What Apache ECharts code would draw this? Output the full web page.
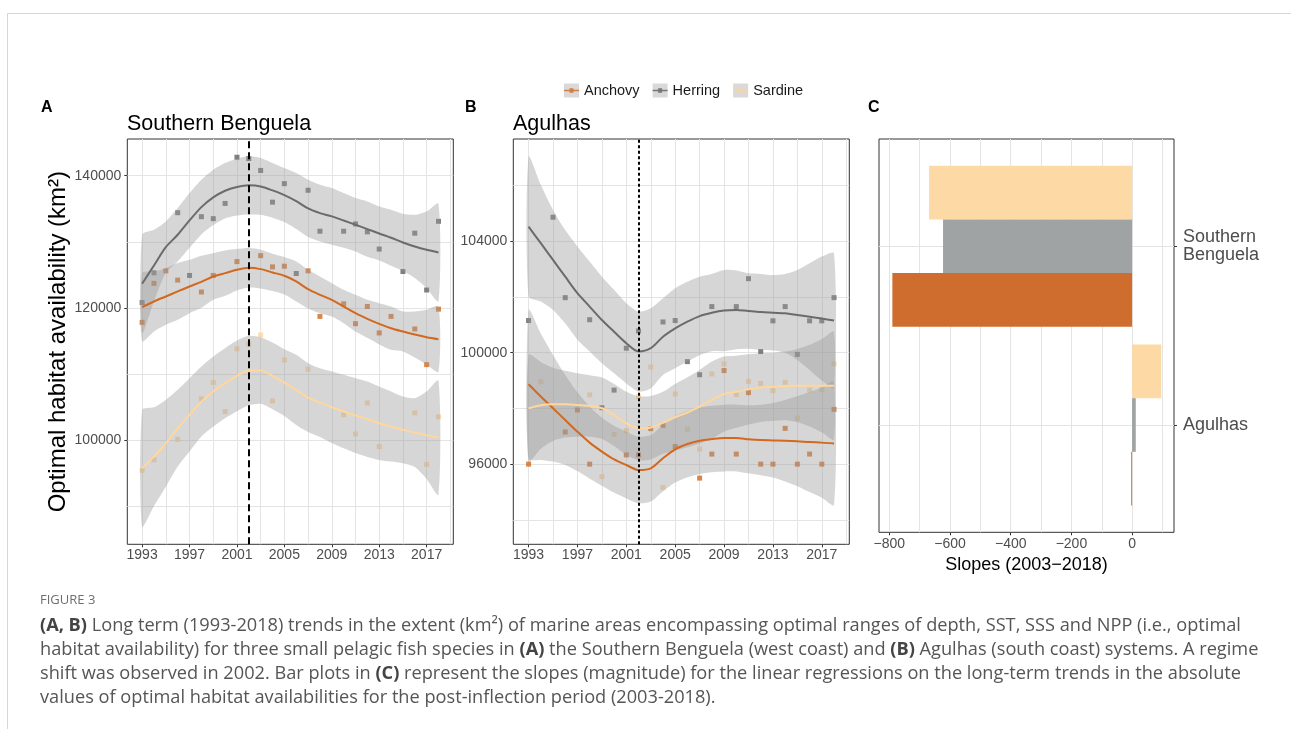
<!DOCTYPE html>
<html><head><meta charset="utf-8">
<script src="https://cdn.jsdelivr.net/npm/echarts@6/dist/echarts.min.js"></script>
<style>html,body{margin:0;padding:0;background:#fff}#c{width:1291px;height:729px}</style>
</head><body><div id="c"></div>
<script>
// ---------------- DATA ----------------
const years = [1993,1994,1995,1996,1997,1998,1999,2000,2001,2002,2003,2004,2005,2006,2007,2008,2009,2010,2011,2012,2013,2014,2015,2016,2017,2018];
const species = ['Anchovy','Herring','Sardine'];
const regimeShiftYear = 2002;

// Panel A: Southern Benguela
const sbAnchovyPts = [117800,123700,125600,124200,null,122400,124900,null,127000,null,127900,126200,126300,null,125600,118700,null,120600,117600,120200,116200,118700,null,116800,111400,119800];
const sbHerringPts = [120800,125300,null,134400,124900,133800,133500,135800,142800,142600,140800,136000,138800,125200,137800,131600,null,131600,132700,131500,128900,null,125500,131300,122700,133100];
const sbSardinePts = [95400,97000,null,100100,null,106200,108700,104300,113800,114500,115900,105900,112100,null,110700,null,null,103800,100900,105600,99000,null,null,104100,96300,103500];
const sbAnchovyFit = [120100,120960,121720,122480,123230,123940,124750,125250,125760,126060,125860,125360,124850,123990,122830,121970,121210,120200,119190,118340,117580,116920,116420,115960,115560,115260];
const sbAnchovyUpper = [125250,125510,126010,126770,127270,127880,128280,128690,128890,129040,128790,128180,127680,127020,125760,124750,123740,122730,121970,121210,120710,120200,119450,119450,119700,120200];
const sbAnchovyLower = [114950,116420,117430,118180,119190,120000,121210,121820,122630,123080,122930,122530,122020,120960,119900,119190,118690,117680,116420,115460,114450,113640,113390,112480,111420,110310];
const sbHerringFit = [123640,126420,129190,131060,133230,135250,136720,137730,138280,138540,138380,137780,137070,136160,135050,134340,133840,133230,132580,131920,131260,130610,129900,129290,128790,128390];
const sbHerringUpper = [131060,131820,133080,135100,137370,139390,140910,141920,142580,142930,142680,141920,141160,140400,139390,138640,138130,137370,136620,136110,135350,134850,134240,134090,134600,135760];
const sbHerringLower = [116210,121010,125300,127020,129090,131110,132530,133540,133990,134140,134090,133640,132980,131920,130710,130050,129550,129090,128540,127730,127170,126370,125560,124500,122980,121010];
const sbSardineFit = [95710,97480,99500,101770,103790,105810,107330,108590,109700,110510,110510,109700,108690,107580,106420,105660,104950,104300,103690,103140,102530,102020,101520,101120,100710,100360];
const sbSardineUpper = [104550,104950,106060,107580,109350,111110,112630,113890,115050,115760,115560,114750,113740,112880,111620,110860,110360,109850,109350,108840,108080,107330,106570,106320,107330,108990];
const sbSardineLower = [86870,90010,92930,95960,98240,100510,102020,103290,104350,105260,105460,104650,103640,102280,101220,100460,99550,98740,98030,97430,96970,96720,96470,95910,94100,91720];

// Panel B: Agulhas
const agAnchovyPts = [96010,null,null,97160,97950,96010,null,null,96340,96340,97280,97400,96640,null,95510,96370,99360,96370,98570,96010,96010,97290,96010,96370,96010,97970];
const agHerringPts = [101150,null,104850,101970,null,101180,98030,98660,100160,100780,null,101100,101150,99680,99210,101650,null,101650,102650,100040,101140,101650,99940,101140,101140,101970];
const agSardinePts = [null,98960,null,null,null,98490,95560,97070,97210,98430,99490,95170,98520,97260,96550,99240,99600,98500,98970,98900,98640,98940,97660,98660,98680,99600];
const agAnchovyFit = [98870,98430,98010,97590,97170,96780,96460,96180,95980,95800,95860,96220,96540,96730,96850,96910,96950,96950,96900,96870,96860,96850,96830,96800,96780,96750];
const agAnchovyUpper = [101530,100690,99920,99200,98580,98070,97670,97380,97170,96990,97050,97410,97730,97920,98040,98100,98140,98140,98120,98140,98200,98310,98440,98590,98750,98960];
const agAnchovyLower = [96210,96160,96100,95980,95760,95490,95240,94990,94780,94610,94670,95030,95350,95540,95660,95720,95750,95750,95680,95610,95530,95390,95220,95010,94810,94550];
const agHerringFit = [104510,103920,103320,102720,102130,101650,101170,100750,100340,100040,100160,100570,100870,101110,101310,101430,101510,101530,101490,101460,101430,101410,101350,101290,101220,101150];
const agHerringUpper = [107020,106010,105110,104390,103800,103260,102720,102250,101770,101470,101590,101950,102310,102540,102720,102820,102960,102940,102840,102820,102780,102820,102960,103200,103440,103560];
const agHerringLower = [102010,101830,101530,101050,100460,100040,99620,99260,98900,98610,98720,99200,99440,99680,99910,100050,100050,100120,100140,100100,100080,100000,99740,99380,99000,98740];
const agSardineFit = [98010,98120,98150,98150,98130,98090,98010,97770,97470,97290,97320,97490,97690,97860,98070,98310,98520,98600,98690,98750,98780,98810,98820,98820,98820,98820];
const agSardineUpper = [99920,99670,99460,99350,99260,99190,99110,98880,98600,98440,98450,98600,98880,99120,99380,99680,99860,99890,99940,99980,100000,100040,100130,100280,100490,100750];
const agSardineLower = [96100,96560,96840,96960,96990,96990,96910,96660,96340,96150,96180,96380,96490,96610,96750,96930,97180,97310,97430,97520,97560,97580,97510,97360,97150,96890];

// Panel C: slopes 2003-2018
const regions = ['Agulhas','Southern Benguela'];
const slopeAnchovy = [-3, -790];
const slopeHerring = [12, -623];
const slopeSardine = [96, -669];

// Tick values
const yearLabels = [1993,1997,2001,2005,2009,2013,2017];
const yearMinor = [1995,1999,2003,2007,2011,2015,2019];
const sbTicks = [100000,120000,140000];
const sbMinor = [90000,110000,130000];
const agTicks = [96000,100000,104000];
const agMinor = [94000,98000,102000,106000];
const slopeTicks = [-800,-600,-400,-200,0];
const slopeMinor = [-700,-500,-300,-100,100];
const regionTicks = [1,2];

const captionLines = [
 '{b|(A, B)} Long term (1993-2018) trends in the extent (km²) of marine areas encompassing optimal ranges of depth, SST, SSS and NPP (i.e., optimal',
 'habitat availability) for three small pelagic fish species in {b|(A)} the Southern Benguela (west coast) and {b|(B)} Agulhas (south coast) systems. A regime',
 'shift was observed in 2002. Bar plots in {b|(C)} represent the slopes (magnitude) for the linear regressions on the long-term trends in the absolute',
 'values of optimal habitat availabilities for the post-inflection period (2003-2018).'
];

// ---------------- STYLE ----------------
const FONT = 'Liberation Sans, Arial, sans-serif';
const CAPFONT = 'Open Sans, sans-serif';
const GRIDC = '#e4e4e4';
const pointColor = {Anchovy:'#D2691E', Herring:'#606060', Sardine:'#FDD49E'};
const lineColor = {Anchovy:'#D2691E', Herring:'#6b6b6b', Sardine:'#FFD69C'};
const barColor = {Anchovy:'#CF6D2E', Herring:'#A0A3A3', Sardine:'#FDD9A6'};

const xMin = 1991.75, xMax = 2019.25;

function gridAxis(gi, min, max, vals, pos) {
  return {type:'value', gridIndex:gi, min, max, position:pos, offset:0,
    axisLine:{show:false, onZero:false}, axisTick:{show:false, customValues:vals},
    axisLabel:{show:false}, splitLine:{show:true, lineStyle:{color:GRIDC, width:1}}};
}
function labelAxis(gi, min, max, vals, pos, margin, extra) {
  return Object.assign({type:'value', gridIndex:gi, min, max, position:pos, offset:0,
    axisLine:{show:false, onZero:false},
    axisTick:{show:true, customValues:vals, length:3, lineStyle:{color:'#333', width:1}},
    axisLabel:{customValues:vals, color:'#4d4d4d', fontSize:14, margin:margin, fontFamily:FONT,
      formatter: v => (v < 0 ? '\u2212' + Math.abs(v) : String(v))},
    splitLine:{show:true, lineStyle:{color:GRIDC, width:1}}}, extra||{});
}

const series = [];
function addPoints(xi, yi, name, pts) {
  series.push({type:'scatter', name, xAxisIndex:xi, yAxisIndex:yi, symbol:'rect', symbolSize:5,
    itemStyle:{color:pointColor[name]}, z:1, silent:true,
    data: years.map((y,i)=>[y, pts[i]]).filter(d=>d[1]!=null)});
}
function addBand(xi, yi, name, lower, upper) {
  series.push({type:'custom', name, xAxisIndex:xi, yAxisIndex:yi, z:2, silent:true,
    data: years.map((y,i)=>[y, lower[i], upper[i]]),
    encode:{x:0, y:[1,2]},
    renderItem:(params, api) => {
      if (params.dataIndex !== 0) return null;
      const pts = [];
      for (let i=0;i<years.length;i++) pts.push(api.coord([years[i], upper[i]]));
      for (let i=years.length-1;i>=0;i--) pts.push(api.coord([years[i], lower[i]]));
      return {type:'polygon', shape:{points:pts, smooth:0.25}, style:{fill:'#999999', opacity:0.4}};
    }});
}
function addLine(xi, yi, name, fit) {
  series.push({type:'line', name, xAxisIndex:xi, yAxisIndex:yi, z:3, silent:true,
    showSymbol:false, smooth:0.3, lineStyle:{color:lineColor[name], width:2},
    itemStyle:{color:lineColor[name]},
    data: years.map((y,i)=>[y, fit[i]])});
}
function addVLine(xi, yi, dash) {
  series.push({type:'line', xAxisIndex:xi, yAxisIndex:yi, data:[], z:5, silent:true,
    markLine:{silent:true, symbol:'none', label:{show:false}, animation:false,
      lineStyle:{color:'#000', width:2, type:dash},
      data:[{xAxis: regimeShiftYear}]}});
}

const panelA = {Anchovy:[sbAnchovyPts,sbAnchovyFit,sbAnchovyLower,sbAnchovyUpper],
                Herring:[sbHerringPts,sbHerringFit,sbHerringLower,sbHerringUpper],
                Sardine:[sbSardinePts,sbSardineFit,sbSardineLower,sbSardineUpper]};
const panelB = {Anchovy:[agAnchovyPts,agAnchovyFit,agAnchovyLower,agAnchovyUpper],
                Herring:[agHerringPts,agHerringFit,agHerringLower,agHerringUpper],
                Sardine:[agSardinePts,agSardineFit,agSardineLower,agSardineUpper]};

species.forEach(s => { addPoints(1,1,s,panelA[s][0]); addPoints(3,3,s,panelB[s][0]); });
species.forEach(s => { addBand(1,1,s,panelA[s][2],panelA[s][3]); addBand(3,3,s,panelB[s][2],panelB[s][3]); });
species.forEach(s => { addLine(1,1,s,panelA[s][1]); addLine(3,3,s,panelB[s][1]); });
addVLine(1,1,[7,4]);
addVLine(3,3,[3,2.5]);

const slopes = {Anchovy:slopeAnchovy, Herring:slopeHerring, Sardine:slopeSardine};
['Sardine','Herring','Anchovy'].forEach(s => {
  series.push({type:'bar', name:s, xAxisIndex:6, yAxisIndex:5, data:slopes[s],
    barCategoryGap:'10%', barGap:'0%', itemStyle:{color:barColor[s]}, silent:true, z:2});
});

const keyPath = 'path://M0,0h0.01v0.01h-0.01z M15,14h-0.01v-0.01h0.01z M0,6.2h15v1.6h-15z M5.5,4.8h4v4.4h-4z';

const option = {
  animation:false,
  textStyle:{fontFamily:FONT},
  title:[
    {text:'A', left:41, top:100, padding:0, textStyle:{fontSize:16, fontWeight:'bold', color:'#000', fontFamily:FONT}},
    {text:'Southern Benguela', left:127, top:113, padding:0, textStyle:{fontSize:21.5, fontWeight:'normal', color:'#000', fontFamily:FONT}},
    {text:'B', left:465, top:100, padding:0, textStyle:{fontSize:16, fontWeight:'bold', color:'#000', fontFamily:FONT}},
    {text:'Agulhas', left:513, top:113, padding:0, textStyle:{fontSize:21.5, fontWeight:'normal', color:'#000', fontFamily:FONT}},
    {text:'C', left:868, top:100, padding:0, textStyle:{fontSize:16, fontWeight:'bold', color:'#000', fontFamily:FONT}}
  ],
  legend:[
    {data:species, left:564, top:83, itemWidth:15, itemHeight:14, itemGap:13, icon:'rect', padding:0,
     selectedMode:false, itemStyle:{color:'#cfcfcf'}, textStyle:{fontSize:14.5, color:'#1a1a1a', fontFamily:FONT}},
    {data:species, left:564, top:83, itemWidth:15, itemHeight:14, itemGap:13, icon:keyPath, padding:0,
     selectedMode:false, textStyle:{fontSize:14.5, color:'rgba(0,0,0,0)', fontFamily:FONT}}
  ],
  grid:[
    {left:127.3, top:139, width:326, height:405.3, show:true, borderColor:'#333', borderWidth:1, backgroundColor:'#fff'},
    {left:513.3, top:139, width:336, height:405.3, show:true, borderColor:'#333', borderWidth:1, backgroundColor:'#fff'},
    {left:879, top:139, width:295, height:393.3, show:true, borderColor:'#333', borderWidth:1, backgroundColor:'#fff'},
    {left:879, top:156.8, width:295, height:357.6, show:false}
  ],
  xAxis:[
    gridAxis(0, xMin, xMax, yearMinor, 'bottom'),
    labelAxis(0, xMin, xMax, yearLabels, 'bottom', 4),
    gridAxis(1, xMin, xMax, yearMinor, 'bottom'),
    labelAxis(1, xMin, xMax, yearLabels, 'bottom', 4),
    gridAxis(2, -834, 138, slopeMinor, 'bottom'),
    labelAxis(2, -834, 138, slopeTicks, 'bottom', 5, {name:'Slopes (2003\u22122018)', nameLocation:'middle', nameGap:20,
      nameTextStyle:{fontSize:18, color:'#000', fontFamily:FONT, verticalAlign:'top'}}),
    {type:'value', gridIndex:3, min:-834, max:138, show:false, axisLine:{show:false, onZero:false}}
  ],
  yAxis:[
    gridAxis(0, 84200, 145560, sbMinor, 'left'),
    labelAxis(0, 84200, 145560, sbTicks, 'left', 6, {name:'Optimal habitat availability (km\u00b2)', nameLocation:'middle', nameGap:56,
      nameTextStyle:{fontSize:24, color:'#000', fontFamily:FONT}}),
    gridAxis(1, 93140, 107650, agMinor, 'left'),
    labelAxis(1, 93140, 107650, agTicks, 'left', 6),
    {type:'value', gridIndex:2, min:0.4, max:2.6, position:'right', offset:0,
      axisLine:{show:false, onZero:false},
      axisTick:{show:true, customValues:regionTicks, length:3, lineStyle:{color:'#333'}},
      axisLabel:{customValues:regionTicks, color:'#4d4d4d', fontSize:18, margin:9, lineHeight:18, align:'left', fontFamily:FONT,
        formatter: v => regions[Math.round(v)-1].replace(' ', '\n')},
      splitLine:{show:true, lineStyle:{color:GRIDC, width:1}}},
    {type:'category', gridIndex:3, data:regions, show:false, axisLine:{show:false, onZero:false}}
  ],
  graphic:[
    {type:'rect', silent:true, shape:{x:7.5, y:13.5, width:1400, height:800}, style:{fill:'none', stroke:'#d6d6d6', lineWidth:1}},
    {type:'text', silent:true, x:40, y:600, style:{text:'FIGURE 3', fontSize:13, fill:'#6e6e6e', fontFamily:CAPFONT, verticalAlign:'middle'}}
  ].concat(captionLines.map((t,i)=>({type:'text', silent:true, x:40, y:626 + i*24,
     style:{text:t, fontSize:18.2, fill:'#555', fontFamily:CAPFONT, verticalAlign:'middle',
       rich:{b:{fontSize:18.2, fontWeight:'bold', fill:'#444', fontFamily:CAPFONT}}}}))),
  series
};

const chart = echarts.init(document.getElementById('c'), null, {renderer:'canvas'});
chart.setOption(option);
</script></body></html>
